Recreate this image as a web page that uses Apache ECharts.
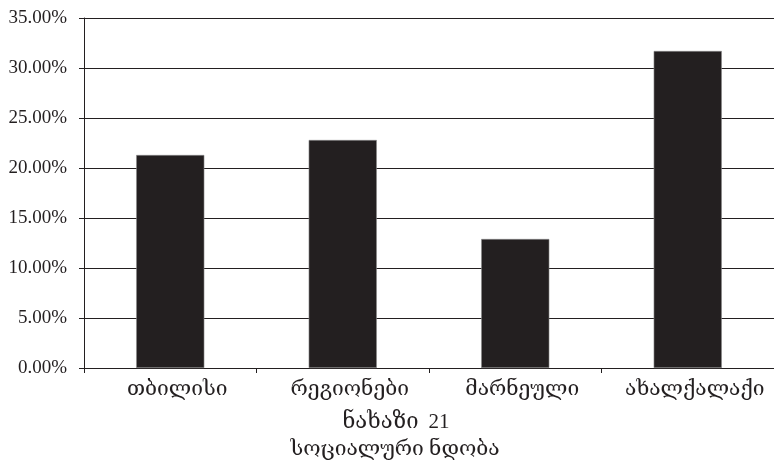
<!DOCTYPE html>
<html>
<head>
<meta charset="utf-8">
<script src="https://cdn.jsdelivr.net/npm/echarts@6/dist/echarts.min.js"></script>
<style>
html,body{margin:0;padding:0;background:#fff;}
#chart{width:774px;height:460px;}
</style>
</head>
<body>
<div id="chart"></div>
<script>
var categories = ['თბილისი', 'რეგიონები', 'მარნეული', 'ახალქალაქი'];
var values = [21.3, 22.8, 12.9, 31.7];
var yTicks = [0, 5, 10, 15, 20, 25, 30, 35];
var titleWord = 'ნახაზი';
var titleNumber = '21';
var subtitleText = 'სოციალური ნდობა';

var FONT = '"Liberation Serif", "DejaVu Serif", serif';
var INK = '#231f20';

var chart = echarts.init(document.getElementById('chart'), null, {renderer: 'canvas'});
chart.setOption({
  animation: false,
  backgroundColor: '#fff',
  title: [{
    text: '{g|' + titleWord + '}{n|' + titleNumber + '}',
    left: 391,
    textAlign: 'center',
    top: 406,
    textStyle: {
      fontWeight: 'normal',
      rich: {
        g: {fontFamily: FONT, fontSize: 22, fontWeight: 'normal', color: INK},
        n: {fontFamily: FONT, fontSize: 21, fontWeight: 'normal', color: INK, padding: [0, 0, 0, 10]}
      }
    }
  }, {
    text: subtitleText,
    left: 390,
    textAlign: 'center',
    top: 434,
    textStyle: {fontFamily: FONT, fontSize: 21, fontWeight: 'normal', color: INK}
  }],
  grid: {left: 84, right: 0, top: 18, bottom: 92, containLabel: false},
  xAxis: {
    type: 'category',
    data: categories,
    boundaryGap: true,
    axisLine: {show: true, lineStyle: {color: INK, width: 1}},
    axisTick: {show: true, length: 5, alignWithLabel: false, lineStyle: {color: INK}},
    axisLabel: {fontFamily: FONT, fontSize: 21, color: INK, margin: 11, interval: 0, hideOverlap: false, padding: [0, 0, 0, 14]}
  },
  yAxis: {
    type: 'value',
    min: yTicks[0],
    max: yTicks[yTicks.length - 1],
    interval: 5,
    axisLine: {show: true, lineStyle: {color: INK, width: 1}},
    axisTick: {show: true, length: 5, inside: false, lineStyle: {color: INK}},
    splitLine: {show: true, lineStyle: {color: INK, width: 1}},
    axisLabel: {
      fontFamily: FONT, fontSize: 19, color: INK, margin: 17,
      formatter: function (v) { return v.toFixed(2) + '%'; }
    }
  },
  series: [{
    type: 'bar',
    data: values,
    barWidth: '39.5%',
    itemStyle: {color: INK, borderColor: '#8a8a8a', borderWidth: 0.6}
  }]
});
</script>
</body>
</html>
